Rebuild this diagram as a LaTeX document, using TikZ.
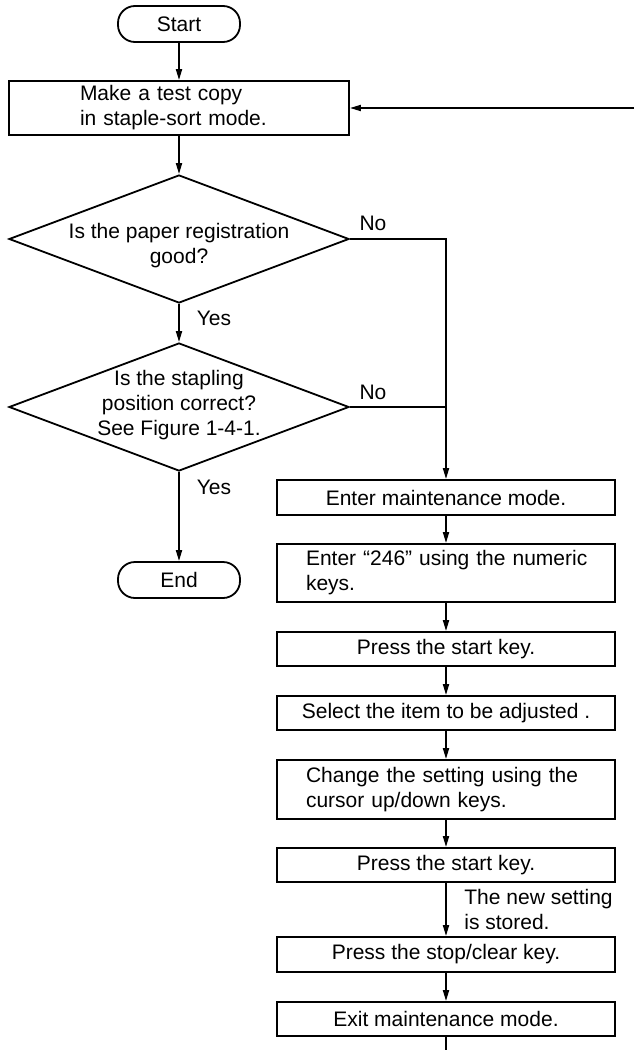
\documentclass[tikz,border=0pt]{standalone}
\usepackage{fontspec}
\setmainfont{Liberation Sans}
\usetikzlibrary{shapes.geometric,arrows.meta}
\begin{document}
\begin{tikzpicture}[x=0.5pt,y=-0.5pt,
  font=\fontsize{10.5}{12.5}\selectfont,
  box/.style={draw, line width=0.9pt, minimum width=169pt, inner sep=0pt, align=center},
  term/.style={draw, line width=0.9pt, rounded corners=8.5pt, minimum width=61pt, minimum height=18pt, inner sep=0pt},
  dec/.style={draw, diamond, line width=0.9pt, aspect=2.66, minimum width=170pt, minimum height=64pt, inner sep=0pt},
  dectext/.style={inner sep=0pt, align=center},
  conn/.style={line width=0.9pt, -{Triangle[length=5.5pt,width=3pt]}},
  plain/.style={line width=0.9pt},
  lbl/.style={inner sep=0pt}
]
\useasboundingbox (0,0) rectangle (634,1050);

% left column
\node[term] (start) at (179,24) {Start};
\node[box, minimum width=170pt, minimum height=27pt, text width=99pt, inner xsep=35.5pt, align=left] (copy) at (179,108) {Make a test copy\\in staple-sort mode.};
\node[dec] (d1) at (179,239) {};
\node[dectext] (d1text) at (179,246) {Is the paper registration\\good?};
\node[dec] (d2) at (179,407) {};
\node[dectext] (d2text) at (179,405) {Is the stapling\\position correct?\\See Figure 1-4-1.};
\node[term] (end) at (179,580) {End};

% right column
\node[box, minimum height=17.5pt] (maint) at (446,497.5) {Enter maintenance mode.};
\node[box, minimum height=29pt, text width=140pt, inner xsep=14.5pt, align=left] (num) at (446,573) {\mbox{Enter “246” using the numeric}\\keys.};
\node[box, minimum height=17pt] (p1) at (446,649) {Press the start key.};
\node[box, minimum height=17pt] (sel) at (446,713) {Select the item to be adjusted .};
\node[box, minimum height=29.5pt, text width=140pt, inner xsep=14.5pt, align=left] (chg) at (446,789.5) {\mbox{Change the setting using the}\\cursor up/down keys.};
\node[box, minimum height=17pt] (p2) at (446,865) {Press the start key.};
\node[box, minimum height=17.5pt] (stop) at (446,954.5) {Press the stop/clear key.};
\node[box, minimum height=17pt] (exit) at (446,1019) {Exit maintenance mode.};

% labels
\node[lbl] (no1) at (373,223) {No};
\node[lbl] (no2) at (373,392) {No};
\node[lbl] (yes1) at (214,318) {Yes};
\node[lbl] (yes2) at (214,487) {Yes};
\node[lbl, anchor=west, align=left] (stored) at (464,909.5) {The new setting\\is stored.};

% coordinates
\coordinate (j1) at (446,239);
\coordinate (j2) at (446,407);
\coordinate (back) at (634,108);
\coordinate (out) at (446,1050);

% connectors
\draw[conn] (start) -- (copy);
\draw[conn] (copy) -- (d1);
\draw[conn] (d1) -- (d2);
\draw[conn] (d2) -- (end);
\draw[conn] (d1.east) -- (j1) -- (maint.north);
\draw[plain] (d2.east) -- (j2);
\draw[conn] (back) -- (copy.east);
\draw[conn] (maint) -- (num);
\draw[conn] (num) -- (p1);
\draw[conn] (p1) -- (sel);
\draw[conn] (sel) -- (chg);
\draw[conn] (chg) -- (p2);
\draw[conn] (p2) -- (stop);
\draw[conn] (stop) -- (exit);
\draw[plain] (exit.south) -- (out);
\end{tikzpicture}
\end{document}
